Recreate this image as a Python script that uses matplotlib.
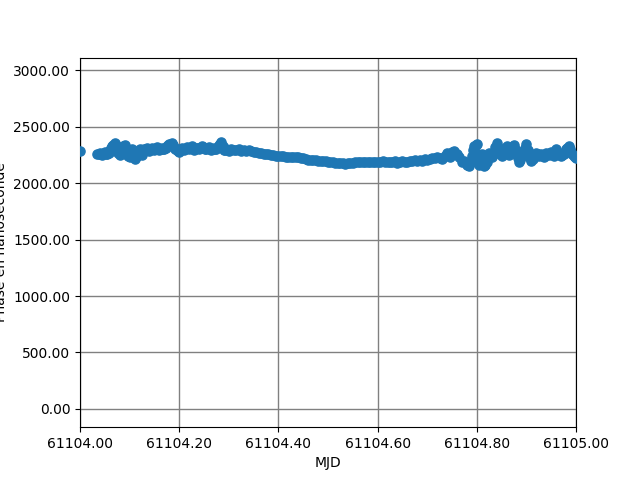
import matplotlib
matplotlib.use("Agg")
import matplotlib.pyplot as plt
from matplotlib.ticker import FormatStrFormatter
import numpy as np

MJD_BASE = 61104.0

frac = [
    0.000,
    0.035, 0.040, 0.045, 0.050, 0.055, 0.060, 0.065, 0.070, 0.075, 0.080,
    0.085, 0.090, 0.095, 0.100, 0.105, 0.110, 0.115, 0.120, 0.125, 0.130,
    0.135, 0.140, 0.145, 0.150, 0.155, 0.160, 0.165, 0.170, 0.175, 0.180,
    0.185, 0.190, 0.195, 0.200, 0.205, 0.210, 0.215, 0.220, 0.225, 0.230,
    0.235, 0.240, 0.245, 0.250, 0.255, 0.260, 0.265, 0.270, 0.275, 0.280,
    0.285, 0.290, 0.295, 0.300, 0.305, 0.310, 0.315, 0.320, 0.325, 0.330,
    0.335, 0.340, 0.345, 0.350, 0.355, 0.360, 0.365, 0.370, 0.375, 0.380,
    0.385, 0.390, 0.395, 0.400, 0.405, 0.410, 0.415, 0.420, 0.425, 0.430,
    0.435, 0.440, 0.445, 0.450, 0.455, 0.460, 0.465, 0.470, 0.475, 0.480,
    0.485, 0.490, 0.495, 0.500, 0.505, 0.510, 0.515, 0.520, 0.525, 0.530,
    0.535, 0.540, 0.545, 0.550, 0.555, 0.560, 0.565, 0.570, 0.575, 0.580,
    0.585, 0.590, 0.595, 0.600, 0.605, 0.610, 0.615, 0.620, 0.625, 0.630,
    0.635, 0.640, 0.645, 0.650, 0.655, 0.660, 0.665, 0.670, 0.675, 0.680,
    0.685, 0.690, 0.695, 0.700, 0.705, 0.710, 0.715, 0.720, 0.725, 0.730,
    0.735, 0.740, 0.745, 0.750, 0.755, 0.760, 0.765, 0.770, 0.775, 0.780,
    0.785, 0.790, 0.795, 0.800, 0.803, 0.805, 0.810, 0.815, 0.820, 0.825,
    0.830, 0.835, 0.840, 0.845, 0.850, 0.855, 0.860, 0.865, 0.870, 0.875,
    0.880, 0.885, 0.890, 0.895, 0.900, 0.905, 0.910, 0.915, 0.920, 0.925,
    0.930, 0.935, 0.940, 0.945, 0.950, 0.955, 0.960, 0.965, 0.970, 0.975,
    0.980, 0.985, 0.990, 0.995, 1.000,
]

phase_ns = [
    2285,
    2255, 2265, 2250, 2275, 2255, 2290, 2330, 2355, 2300, 2250,
    2320, 2335, 2260, 2230, 2300, 2215, 2260, 2300, 2250, 2305,
    2315, 2285, 2310, 2295, 2320, 2290, 2310, 2300, 2330, 2345,
    2360, 2320, 2290, 2275, 2310, 2290, 2320, 2305, 2330, 2295,
    2315, 2300, 2330, 2310, 2300, 2320, 2290, 2310, 2300, 2340,
    2365, 2295, 2300, 2285, 2305, 2295, 2290, 2300, 2285, 2295,
    2285, 2290, 2285, 2280, 2275, 2270, 2265, 2260, 2260, 2255,
    2250, 2250, 2245, 2245, 2240, 2240, 2235, 2235, 2235, 2230,
    2230, 2230, 2225, 2220, 2215, 2210, 2210, 2205, 2205, 2200,
    2200, 2195, 2195, 2190, 2185, 2185, 2180, 2180, 2175, 2175,
    2170, 2175, 2180, 2180, 2185, 2185, 2190, 2190, 2185, 2190,
    2190, 2185, 2190, 2190, 2185, 2195, 2190, 2185, 2190, 2185,
    2195, 2180, 2190, 2195, 2190, 2185, 2200, 2195, 2205, 2200,
    2210, 2200, 2215, 2205, 2215, 2225, 2220, 2230, 2220, 2215,
    2245, 2265, 2235, 2280, 2285, 2260, 2235, 2190, 2200, 2160,
    2150, 2240, 2330, 2350, 2200, 2165, 2260, 2150, 2190, 2270,
    2230, 2280, 2355, 2280, 2240, 2300, 2330, 2250, 2320, 2340,
    2260, 2185, 2230, 2290, 2345, 2250, 2200, 2230, 2270, 2240,
    2260, 2230, 2270, 2250, 2280, 2240, 2300, 2260, 2240, 2260,
    2300, 2330, 2280, 2240, 2220,
]

# additional samples in the noisy stretches
frac_extra = [
    0.0375, 0.0425, 0.0475, 0.0525, 0.0575, 0.0625, 0.0675, 0.0725, 0.0775, 0.0825,
    0.0875, 0.0925, 0.0975, 0.1025, 0.1075, 0.1125, 0.1175, 0.1225, 0.1275, 0.1325,
    0.1375, 0.1425, 0.1475, 0.1525, 0.1575, 0.1625, 0.1675, 0.1725, 0.1775, 0.1825,
    0.1875, 0.1925, 0.1975, 0.2025, 0.2075, 0.2125, 0.2175, 0.2225, 0.2275, 0.2325,
    0.2375, 0.2425, 0.2475, 0.2525, 0.2575, 0.2625, 0.2675, 0.2725, 0.2775, 0.2825,
    0.2875, 0.2925, 0.2975,
    0.7825, 0.7875, 0.7925, 0.7975, 0.8025, 0.8075, 0.8125, 0.8175, 0.8225, 0.8275,
    0.8325, 0.8375, 0.8425, 0.8475, 0.8525, 0.8575, 0.8625, 0.8675, 0.8725, 0.8775,
    0.8825, 0.8875, 0.8925, 0.8975, 0.9025, 0.9075, 0.9125, 0.9175, 0.9225, 0.9275,
    0.9325, 0.9375, 0.9425, 0.9475, 0.9525, 0.9575, 0.9625, 0.9675, 0.9725, 0.9775,
    0.9825, 0.9875, 0.9925, 0.9975,
]

phase_extra = [
    2260, 2255, 2265, 2260, 2270, 2310, 2340, 2325, 2270, 2290,
    2330, 2295, 2245, 2265, 2250, 2235, 2285, 2270, 2285, 2300,
    2300, 2300, 2300, 2310, 2305, 2300, 2305, 2315, 2335, 2350,
    2340, 2300, 2285, 2295, 2300, 2305, 2310, 2315, 2310, 2305,
    2310, 2315, 2320, 2305, 2310, 2305, 2300, 2305, 2320, 2350,
    2330, 2295, 2295,
    2165, 2190, 2290, 2340, 2260, 2230, 2200, 2165, 2230, 2250,
    2255, 2320, 2315, 2260, 2270, 2315, 2290, 2285, 2330, 2300,
    2220, 2205, 2260, 2315, 2295, 2225, 2215, 2250, 2255, 2250,
    2245, 2250, 2260, 2265, 2260, 2270, 2280, 2250, 2250, 2280,
    2315, 2305, 2260, 2230,
]

mjd = MJD_BASE + np.array(frac + frac_extra)
phase = np.array(phase_ns + phase_extra)
order = np.argsort(mjd)

fig, ax = plt.subplots(figsize=(6.4, 4.8), dpi=100)
ax.plot(mjd[order], phase[order], 'o', color='#1f77b4', markersize=6.6, zorder=3)
ax.grid(True, color='grey', linewidth=1.0)
ax.set_xlim(61104.0, 61105.0)
ax.set_ylim(-162, 3113)
ax.set_xticks([61104.0, 61104.2, 61104.4, 61104.6, 61104.8, 61105.0])
ax.set_yticks([0, 500, 1000, 1500, 2000, 2500, 3000])
ax.xaxis.set_major_formatter(FormatStrFormatter('%.2f'))
ax.yaxis.set_major_formatter(FormatStrFormatter('%.2f'))
ax.set_xlabel('MJD')
ax.set_ylabel('Phase en nanoseconde')
fig.savefig('out.png', dpi=100)
